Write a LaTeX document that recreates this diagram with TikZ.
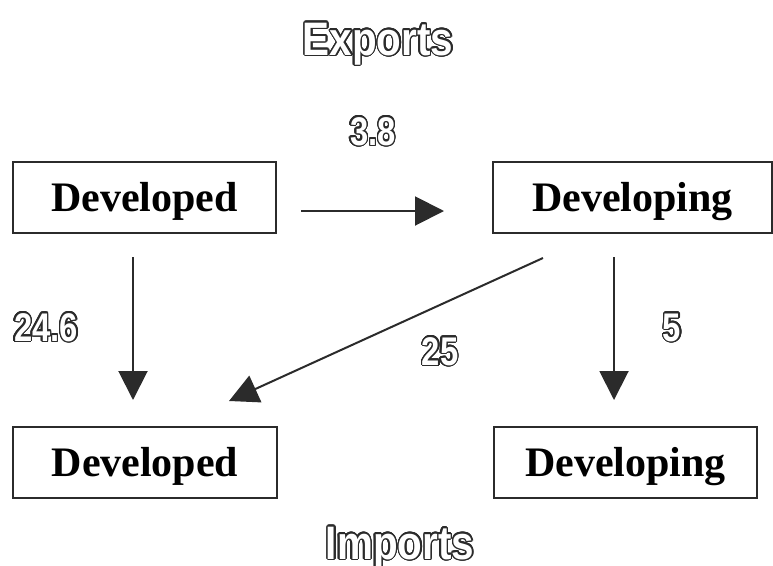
\documentclass[tikz,border=0pt]{standalone}
\usepackage{fontspec}
\usepackage{graphicx}
\usepackage[copies]{contour}
\setmainfont{Liberation Serif}
\newfontfamily\lblfont{Liberation Sans}
\usetikzlibrary{arrows.meta}
\definecolor{ink}{HTML}{2B2B2B}
\contournumber{24}
\contourlength{1.4pt}
\newcommand\outltitle[1]{{\lblfont\bfseries\fontsize{47}{50}\selectfont\color{white}\contour{ink}{\scalebox{0.86}[1]{#1}}}}
\newcommand\outlnum[1]{{\lblfont\bfseries\fontsize{40}{44}\selectfont\color{white}\contour{ink}{\scalebox{0.82}[1]{#1}}}}
\begin{document}
\begin{tikzpicture}[x=1pt,y=-1pt,
  box/.style={draw=ink,line width=2pt,inner sep=0pt,minimum height=71pt,
    font=\bfseries\fontsize{42}{44}\selectfont,text height=28pt,text depth=0pt},
  flow/.style={draw=ink,line width=2pt,-{Triangle[length=29pt,width=29pt]}},
  lbl/.style={anchor=base,inner sep=0pt}]
\useasboundingbox (0,0) rectangle (773,565);
\node[box,minimum width=263pt] (tl) at (144.5,197.5) {Developed};
\node[box,minimum width=279pt] (tr) at (632.5,197.5) {Developing};
\node[box,minimum width=264pt] (bl) at (145,462.5) {Developed};
\node[box,minimum width=263pt] (br) at (625.5,462.5) {Developing};
\coordinate (h1) at (301,211);
\coordinate (h2) at (444,211);
\coordinate (l1) at (133,257);
\coordinate (l2) at (133,400);
\coordinate (r1) at (614,257);
\coordinate (r2) at (614,400);
\coordinate (d1) at (543,258);
\coordinate (d2) at (229,401);
\draw[flow] (h1) -- (h2);
\draw[flow] (l1) -- (l2);
\draw[flow] (r1) -- (r2);
\draw[flow] (d1) -- (d2);
\node[lbl] (exp) at (378,55) {\outltitle{Exports}};
\node[lbl] (imp) at (400,559) {\outltitle{Imports}};
\node[lbl] (n38) at (373,145) {\outlnum{3.8}};
\node[lbl] (n246) at (46,341) {\outlnum{24.6}};
\node[lbl] (n25) at (440,365) {\outlnum{25}};
\node[lbl] (n5) at (672,341) {\outlnum{5}};
\end{tikzpicture}
\end{document}
